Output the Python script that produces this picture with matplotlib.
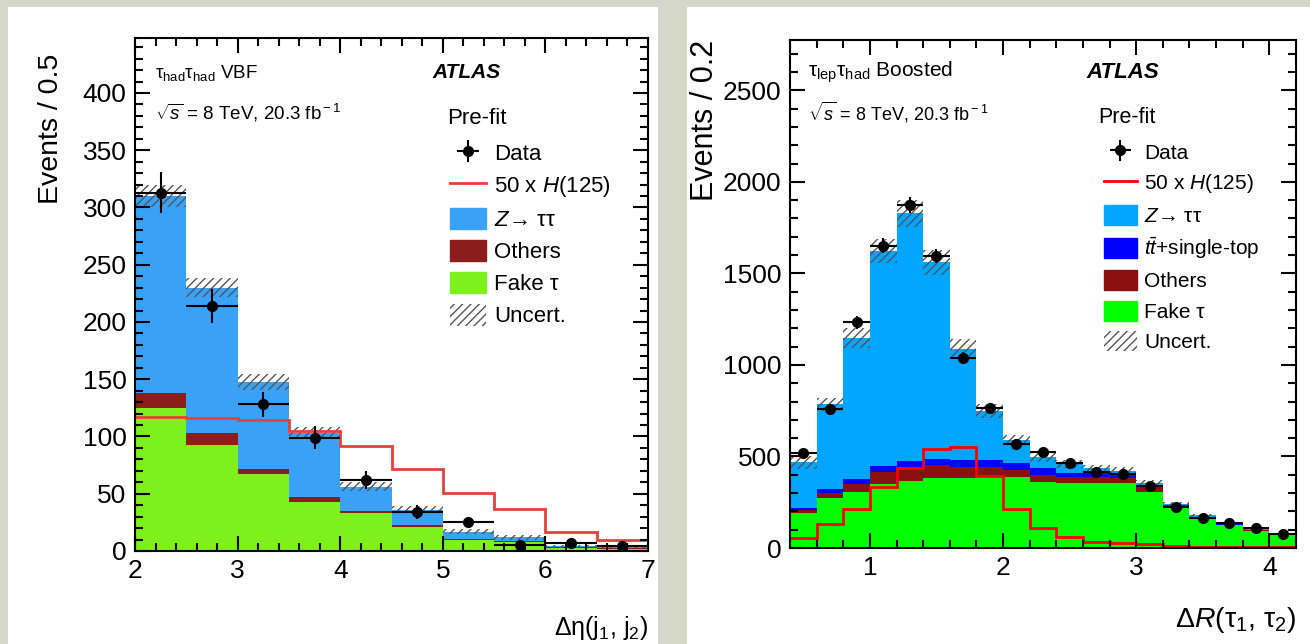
import matplotlib
matplotlib.use('Agg')
import matplotlib.pyplot as plt
from matplotlib.patches import Rectangle, Patch
from matplotlib.lines import Line2D
from matplotlib.ticker import MultipleLocator

plt.rcParams['font.family'] = ['Liberation Sans', 'DejaVu Sans']
plt.rcParams['mathtext.fontset'] = 'custom'
plt.rcParams['mathtext.rm'] = 'Liberation Sans'
plt.rcParams['mathtext.it'] = 'Liberation Sans:italic'
plt.rcParams['mathtext.bf'] = 'Liberation Sans:bold'
plt.rcParams['hatch.linewidth'] = 1.0

# ---- left: tau_had tau_had VBF, delta eta(j1, j2)
edges_l = [2.0, 2.5, 3.0, 3.5, 4.0, 4.5, 5.0, 5.5, 6.0, 6.5, 7.0]
fake_l = [125, 93, 67, 43, 33, 21, 10, 8, 3, 2]
others_l = [13, 10, 5, 4, 2, 2, 0.8, 0.5, 0.3, 0.3]
ztt_l = [172, 127, 76, 56, 21, 13, 6.2, 3.5, 0.7, 1.7]
unc_l = [10, 8, 7, 5, 4, 3, 2.5, 2, 1.5, 1.5]
sig_l = [117, 116, 114, 105, 92, 72, 51, 37, 17, 10]
data_l = [313, 214, 128, 99, 62, 34, 25, 5, 7, 4]
derr_l = [18, 15, 11, 10, 8, 6, 5, 2.2, 2.6, 2]

# ---- right: tau_lep tau_had boosted, delta R(tau1, tau2)
edges_r = [0.4, 0.6, 0.8, 1.0, 1.2, 1.4, 1.6, 1.8, 2.0, 2.2, 2.4,
           2.6, 2.8, 3.0, 3.2, 3.4, 3.6, 3.8, 4.0, 4.2]
fake_r = [193, 275, 307, 349, 367, 384, 380, 393, 389, 362, 353, 357, 353, 307, 222, 162, 126, 95, 71]
others_r = [14, 23, 42, 64, 77, 67, 60, 47, 37, 36, 33, 32, 27, 24, 4, 3, 2, 2, 1]
top_r = [11, 24, 28, 33, 29, 35, 40, 40, 36, 37, 25, 26, 24, 13, 9, 5, 4, 3, 2]
ztt_r = [251, 464, 769, 1175, 1355, 1076, 606, 270, 128, 60, 48, 20, 16, 11, 7, 10, 3, 2, 2]
unc_r = [35, 36, 54, 65, 75, 68, 55, 38, 28, 25, 22, 20, 20, 15, 10, 8, 6, 5, 4]
sig_r = [56, 131, 213, 335, 438, 539, 551, 396, 213, 107, 62, 35, 29, 20, 11, 5, 4, 3, 3]
data_r = [520, 759, 1234, 1650, 1872, 1596, 1036, 765, 570, 525, 465, 416, 404, 336, 226, 163, 135, 107, 76]
derr_r = [23, 28, 35, 41, 43, 40, 32, 28, 24, 23, 22, 20, 20, 18, 15, 13, 12, 10, 9]


def stack(ax, edges, comps, colors):
    base = [0] * (len(edges) - 1)
    for vals, col in zip(comps, colors):
        top = [b + v for b, v in zip(base, vals)]
        ax.stairs(top, edges, baseline=base, fill=True, color=col, lw=0)
        base = top
    return base


def draw(ax, edges, comps, colors, unc, sig, sigcol, data, derr, msize):
    total = stack(ax, edges, comps, colors)
    centers = [(a + b) / 2 for a, b in zip(edges[:-1], edges[1:])]
    widths = [b - a for a, b in zip(edges[:-1], edges[1:])]
    ax.bar(centers, [2 * u for u in unc], width=widths,
           bottom=[t - u for t, u in zip(total, unc)],
           fill=False, hatch='////', edgecolor='#555555', lw=0)
    ax.stairs(sig, edges, baseline=None, color=sigcol, lw=2)
    eb = ax.errorbar(centers, data, yerr=derr, xerr=[w / 2 for w in widths],
                     fmt='o', color='black', ms=msize, elinewidth=1.5, capsize=0)
    return eb


def style(ax, xmaj, xmin, ymaj, ymin):
    ax.xaxis.set_major_locator(MultipleLocator(xmaj))
    ax.xaxis.set_minor_locator(MultipleLocator(xmin))
    ax.yaxis.set_major_locator(MultipleLocator(ymaj))
    ax.yaxis.set_minor_locator(MultipleLocator(ymin))
    ax.tick_params(which='both', direction='in', top=True, right=True, labelsize=19, width=1.5)
    ax.tick_params(which='major', length=11, pad=6)
    ax.tick_params(which='minor', length=6)
    for s in ax.spines.values():
        s.set_linewidth(1.5)


fig = plt.figure(figsize=(13.1, 6.44), dpi=100)
fig.patch.set_facecolor('#d5d7c8')
fig.patches.append(Rectangle((8 / 1310, 0), 650 / 1310, 637 / 644, transform=fig.transFigure,
                             facecolor='white', edgecolor='none', zorder=-10))
fig.patches.append(Rectangle((687 / 1310, 0), 623 / 1310, 637 / 644, transform=fig.transFigure,
                             facecolor='white', edgecolor='none', zorder=-10))

# left panel
ax1 = fig.add_axes([135 / 1310, 93 / 644, 513 / 1310, 513 / 644])
cols_l = ['#7ef01e', '#8b1e1a', '#3aa2f6']
eb1 = draw(ax1, edges_l, [fake_l, others_l, ztt_l], cols_l, unc_l, sig_l, '#e8403a', data_l, derr_l, 7)
ax1.set_xlim(2, 7)
ax1.set_ylim(0, 448)
style(ax1, 1, 0.2, 50, 10)
ax1.set_ylabel('Events / 0.5', fontsize=20.5)
ax1.yaxis.set_label_coords(-0.138, 0.97)
ax1.yaxis.label.set_ha('right')
ax1.set_xlabel('\u0394\u03b7(j$_1$, j$_2$)', fontsize=18, loc='right', labelpad=22)
ax1.text(0.039, 0.932, '\u03c4$_{\\rm had}$\u03c4$_{\\rm had}$ VBF', transform=ax1.transAxes,
         fontsize=13.5, va='center')
ax1.text(0.039, 0.854, r'$\sqrt{s}$ = 8 TeV, 20.3 fb$^{\rm -1}$', transform=ax1.transAxes,
         fontsize=13.5, va='center')
ax1.text(0.579, 0.932, 'ATLAS', transform=ax1.transAxes, fontsize=15,
         fontweight='bold', fontstyle='italic', va='center')
ax1.text(0.608, 0.844, 'Pre-fit', transform=ax1.transAxes, fontsize=16, va='center')
h1 = [eb1, Line2D([], [], color='#e8403a', lw=2),
      Patch(color=cols_l[2]), Patch(color=cols_l[1]), Patch(color=cols_l[0]),
      Patch(fill=False, hatch='////', edgecolor='#555555', lw=0)]
l1 = ['Data', '50 x $H$(125)', '$Z$\u2192 \u03c4\u03c4', 'Others', 'Fake \u03c4', 'Uncert.']
ax1.legend(h1, l1, loc='upper left', bbox_to_anchor=(0.615, 0.798), frameon=False,
           fontsize=16, borderpad=0, borderaxespad=0, handlelength=1.6, handleheight=1.1,
           handletextpad=0.35, labelspacing=0.4)

# right panel
ax2 = fig.add_axes([790 / 1310, 96 / 644, 506 / 1310, 508 / 644])
cols_r = ['#00ff00', '#8b1010', '#0000ff', '#00a6ff']
eb2 = draw(ax2, edges_r, [fake_r, others_r, top_r, ztt_r], cols_r, unc_r, sig_r, '#ff0000', data_r, derr_r, 7)
ax2.set_xlim(0.4, 4.2)
ax2.set_ylim(0, 2775)
style(ax2, 1, 0.2, 500, 100)
ax2.set_ylabel('Events / 0.2', fontsize=22)
ax2.yaxis.set_label_coords(-0.138, 1.0)
ax2.yaxis.label.set_ha('right')
ax2.set_xlabel('\u0394$R$(\u03c4$_1$, \u03c4$_2$)', fontsize=20.5, loc='right', labelpad=18)
ax2.text(0.036, 0.937, '\u03c4$_{\\rm lep}$\u03c4$_{\\rm had}$ Boosted', transform=ax2.transAxes,
         fontsize=15, va='center')
ax2.text(0.036, 0.858, r'$\sqrt{s}$ = 8 TeV, 20.3 fb$^{\rm -1}$', transform=ax2.transAxes,
         fontsize=13, va='center')
ax2.text(0.585, 0.937, 'ATLAS', transform=ax2.transAxes, fontsize=16,
         fontweight='bold', fontstyle='italic', va='center')
ax2.text(0.609, 0.848, 'Pre-fit', transform=ax2.transAxes, fontsize=15.5, va='center')
h2 = [eb2, Line2D([], [], color='#ff0000', lw=2),
      Patch(color=cols_r[3]), Patch(color=cols_r[2]), Patch(color=cols_r[1]), Patch(color=cols_r[0]),
      Patch(fill=False, hatch='////', edgecolor='#555555', lw=0)]
l2 = ['Data', '50 x $H$(125)', '$Z$\u2192 \u03c4\u03c4', r'$t\bar{t}$+single-top', 'Others',
      'Fake \u03c4', 'Uncert.']
ax2.legend(h2, l2, loc='upper left', bbox_to_anchor=(0.62, 0.8), frameon=False,
           fontsize=15, borderpad=0, borderaxespad=0, handlelength=1.6, handleheight=1.1,
           handletextpad=0.35, labelspacing=0.45)

fig.savefig('out.png', dpi=100, facecolor=fig.get_facecolor())
